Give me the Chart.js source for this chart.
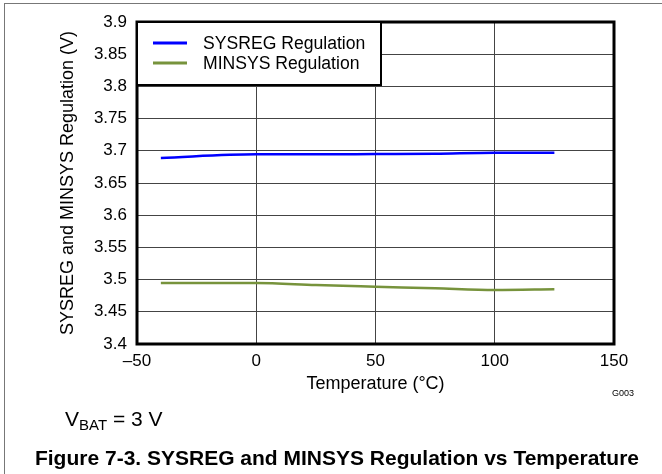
<!DOCTYPE html>
<html>
<head>
<meta charset="utf-8">
<script src="https://cdn.jsdelivr.net/npm/chart.js@4"></script>
<style>
  body { margin: 0; background: #fff; font-family: "Liberation Sans", Arial, sans-serif; }
  #wrap { position: relative; width: 662px; height: 474px; overflow: hidden; }
  #frame { position: absolute; left: 4px; top: 3px; width: 680px; height: 500px;
           border-top: 1.5px solid #777; border-left: 1.5px solid #777; }
  canvas { position: absolute; left: 0; top: 0; }
  .note { position: absolute; color: #000; white-space: nowrap; }
  #gcode { left: 612px; top: 388px; font-size: 9px; }
  #vbat { left: 65px; top: 407px; font-size: 21px; }
  #vbat sub { font-size: 15px; vertical-align: -4px; }
  #caption { left: 0; width: 674px; text-align: center; top: 446px; font-size: 21px; font-weight: bold; }
</style>
</head>
<body>
<div id="wrap">
  <div id="frame"></div>
  <canvas id="chart" width="662" height="474"></canvas>
  <div class="note" id="gcode">G003</div>
  <div class="note" id="vbat">V<sub>BAT</sub> = 3 V</div>
  <div class="note" id="caption">Figure 7-3. SYSREG and MINSYS Regulation vs Temperature</div>
</div>
<script>
const temps = [-40, 0, 25, 50, 75, 100, 125];
const sysreg = [3.689, 3.6945, 3.6945, 3.695, 3.6955, 3.697, 3.697];
const minsys = [3.4947, 3.4947, 3.4916, 3.489, 3.4865, 3.4838, 3.4849];
const tempTicks = [-50, 0, 50, 100, 150];
const voltTicks = [3.4, 3.45, 3.5, 3.55, 3.6, 3.65, 3.7, 3.75, 3.8, 3.85, 3.9];

const FONT = '"Liberation Sans", Arial, sans-serif';

// black box round the plot
const plotFrame = {
  id: 'plotFrame',
  afterDatasetsDraw(chart) {
    const { ctx, chartArea: a } = chart;
    ctx.save();
    ctx.strokeStyle = '#000';
    ctx.lineWidth = 3;
    ctx.strokeRect(a.left, a.top, a.right - a.left, a.bottom - a.top);
    ctx.restore();
  }
};

// legend box in the upper left corner of the plot
const boxLegend = {
  id: 'boxLegend',
  afterDraw(chart) {
    const { ctx, chartArea: a } = chart;
    const x = a.left, y = a.top, w = 244, h = 63;
    ctx.save();
    ctx.fillStyle = '#fff';
    ctx.fillRect(x, y, w, h);
    ctx.strokeStyle = '#000';
    ctx.lineWidth = 2;
    ctx.strokeRect(x, y, w, h);
    ctx.font = '17.6px ' + FONT;
    ctx.textBaseline = 'middle';
    chart.data.datasets.forEach((ds, i) => {
      const ly = y + 21 + i * 20;
      ctx.strokeStyle = ds.borderColor;
      ctx.lineWidth = 3;
      ctx.beginPath();
      ctx.moveTo(x + 16, ly);
      ctx.lineTo(x + 50, ly);
      ctx.stroke();
      ctx.fillStyle = '#000';
      ctx.fillText(ds.label, x + 66, ly + 1);
    });
    ctx.restore();
  }
};

new Chart(document.getElementById('chart'), {
  type: 'line',
  data: {
    datasets: [
      {
        label: 'SYSREG Regulation',
        data: temps.map((t, i) => ({ x: t, y: sysreg[i] })),
        borderColor: '#0000ff',
        borderWidth: 2.5,
        pointRadius: 0,
        cubicInterpolationMode: 'monotone'
      },
      {
        label: 'MINSYS Regulation',
        data: temps.map((t, i) => ({ x: t, y: minsys[i] })),
        borderColor: '#77933c',
        borderWidth: 2.5,
        pointRadius: 0,
        cubicInterpolationMode: 'monotone'
      }
    ]
  },
  options: {
    responsive: false,
    animation: false,
    layout: { padding: { left: 50, top: 22, right: 48, bottom: 78 } },
    plugins: { legend: { display: false }, tooltip: { enabled: false } },
    scales: {
      x: {
        type: 'linear',
        min: -50,
        max: 150,
        afterBuildTicks: s => { s.ticks = tempTicks.map(v => ({ value: v })); },
        afterFit: s => { s.height = 52; },
        ticks: {
          color: '#000',
          font: { family: FONT, size: 17 },
          padding: 7,
          maxRotation: 0,
          callback: v => (v < 0 ? '\u2013' + Math.abs(v) : String(v))
        },
        grid: { color: '#444', lineWidth: 1, drawTicks: false },
        border: { display: false },
        title: {
          display: true,
          text: 'Temperature (\u00b0C)',
          color: '#000',
          font: { family: FONT, size: 18 },
          padding: { top: 0, bottom: 1 }
        }
      },
      y: {
        type: 'linear',
        min: 3.4,
        max: 3.9,
        afterBuildTicks: s => { s.ticks = voltTicks.map(v => ({ value: v })); },
        afterFit: s => { s.width = 87; },
        ticks: {
          color: '#000',
          font: { family: FONT, size: 17 },
          padding: 10,
          callback: v => String(Number(v.toFixed(2)))
        },
        grid: { color: '#444', lineWidth: 1, drawTicks: false },
        border: { display: false },
        title: {
          display: true,
          text: 'SYSREG and MINSYS Regulation (V)',
          color: '#000',
          font: { family: FONT, size: 18 },
          padding: { top: 7, bottom: 0 }
        }
      }
    }
  },
  plugins: [plotFrame, boxLegend]
});
</script>
</body>
</html>
